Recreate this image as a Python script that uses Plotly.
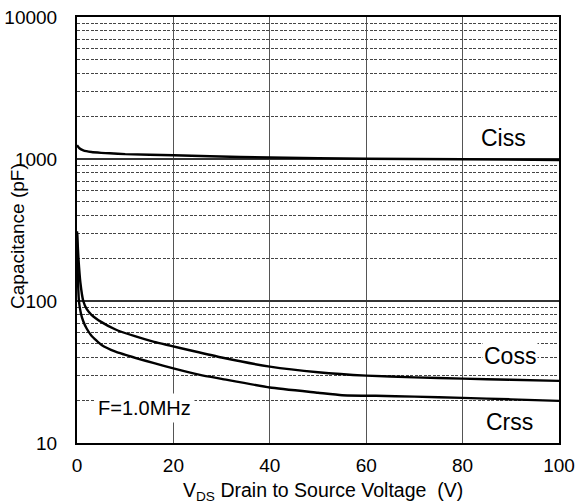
import math
import plotly.graph_objects as go

# Data
ciss_v = [0, 0.5, 1.3, 3, 5, 6.8, 10, 20, 27.6, 40, 60, 80, 100]
ciss_c = [1250, 1190, 1150, 1120, 1105, 1097, 1083, 1062, 1045, 1025, 1005, 995, 985]

coss_v = [0, 0.3, 0.7, 1.3, 2, 3, 5.1, 8, 12, 16, 19.3, 23.4, 30, 40, 50, 60, 70, 80, 90, 100]
coss_c = [310, 200, 135, 100, 88, 80, 71, 63, 56.5, 51.5, 48.5, 45, 40, 34.5, 31.5, 29.8, 29, 28.4, 27.9, 27.4]

crss_v = [0, 0.15, 0.4, 0.8, 1.3, 2, 3, 5.1, 8, 12.4, 16, 20, 25.5, 30, 40, 50, 55, 62, 70, 80, 90, 100]
crss_c = [300, 160, 100, 82, 72, 64, 57, 49, 44, 39.5, 36.5, 33.5, 30.2, 28.3, 24.6, 22.6, 21.7, 21.5, 21.2, 20.8, 20.3, 19.8]

x_ticks = [0, 20, 40, 60, 80, 100]
y_major = [10, 100, 1000, 10000]
y_minor = [m * 10 ** e for e in (1, 2, 3) for m in range(2, 10)]

labels = [
    ("Ciss", 88.4, 1396),
    ("Coss", 89.8, 41),
    ("Crss", 89.8, 14.1),
]

font_family = "Arial, Liberation Sans, sans-serif"

fig = go.Figure()
for v, c in ((ciss_v, ciss_c), (coss_v, coss_c), (crss_v, crss_c)):
    fig.add_trace(go.Scatter(
        x=v, y=c, mode="lines",
        line=dict(color="black", width=2.4, shape="spline", smoothing=0.5),
        showlegend=False, hoverinfo="skip",
    ))

for text, x, y in labels:
    fig.add_annotation(
        x=x, y=math.log10(y), text=text, showarrow=False,
        font=dict(family=font_family, size=23, color="black"),
        bgcolor="white", borderpad=1,
    )

fig.add_annotation(
    x=14.1, y=math.log10(17.7), text="F=1.0MHz", showarrow=False,
    font=dict(family=font_family, size=20, color="black"),
    bgcolor="white", borderpad=3,
)

# axis titles
fig.add_annotation(
    xref="paper", yref="paper", x=-0.1224, y=0.486, textangle=-90,
    xanchor="center", yanchor="middle",
    text="Capacitance (pF)", showarrow=False,
    font=dict(family=font_family, size=19, color="black"),
)
fig.add_annotation(
    xref="paper", yref="paper", x=0.51, y=-0.1127,
    xanchor="center", yanchor="middle",
    text="V<sub>DS</sub> Drain to Source Voltage  (V)", showarrow=False,
    font=dict(family=font_family, size=19.5, color="black"),
)

fig.update_layout(
    width=579, height=504,
    margin=dict(l=77, r=20, t=17, b=61),
    paper_bgcolor="white", plot_bgcolor="white",
    font=dict(family=font_family, color="black"),
)

fig.update_xaxes(
    range=[0, 100], tickvals=x_ticks, ticktext=[str(t) for t in x_ticks],
    showgrid=True, gridcolor="#555555", gridwidth=1,
    showline=True, linecolor="black", linewidth=2, mirror=True,
    ticks="", tickfont=dict(size=19), zeroline=False, automargin=False,
    ticklabelstandoff=4,
)

fig.update_yaxes(
    type="log", range=[1, 4], tickvals=y_major, ticktext=[str(t) for t in y_major],
    showgrid=True, gridcolor="#333333", gridwidth=1.5,
    showline=True, linecolor="black", linewidth=2, mirror=True,
    ticks="", tickfont=dict(size=19), zeroline=False, automargin=False,
    ticklabelstandoff=14,
    minor=dict(tickvals=y_minor, showgrid=True, gridcolor="#444444",
               griddash="3px,1.5px", gridwidth=1, ticks=""),
)

fig.write_html(
    "out.html",
    config={"displayModeBar": False},
    post_script="document.body.style.margin='0';document.body.style.padding='0';",
)
